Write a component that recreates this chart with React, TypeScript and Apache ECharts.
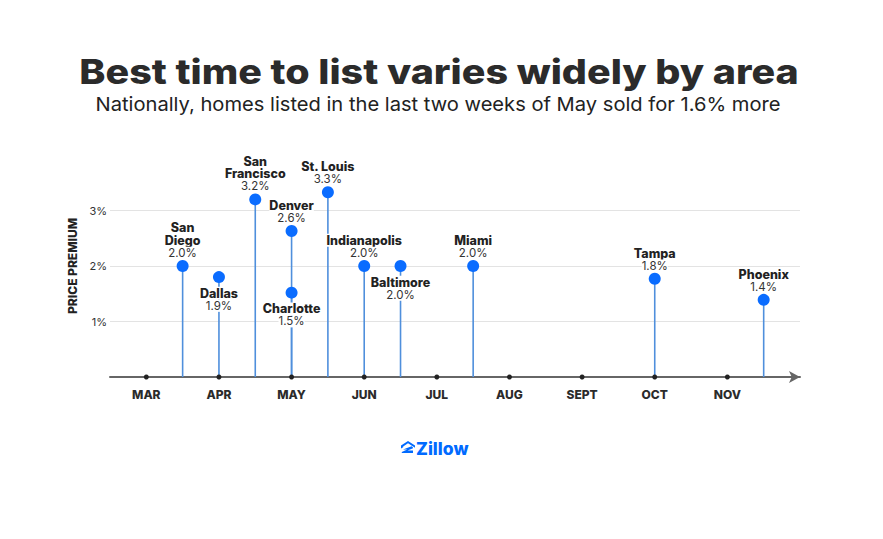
import React, { useEffect, useRef } from "react";
import * as echarts from "echarts";

const cityNames = ["San\nDiego", "Dallas", "San\nFrancisco", "Denver", "Charlotte", "St. Louis", "Indianapolis", "Baltimore", "Miami", "Tampa", "Phoenix"];
const listMonth = [3.5, 4, 4.5, 5, 5, 5.5, 6, 6.5, 7.5, 10, 11.5];
const premium = [2.0, 1.8, 3.2, 2.63, 1.52, 3.33, 2.0, 2.0, 2.0, 1.77, 1.39];
const premiumLabels = ["2.0%", "1.9%", "3.2%", "2.6%", "1.5%", "3.3%", "2.0%", "2.0%", "2.0%", "1.8%", "1.4%"];
const labelBelow = [false, true, false, false, true, false, false, true, false, false, false];
const months = ["MAR", "APR", "MAY", "JUN", "JUL", "AUG", "SEPT", "OCT", "NOV"];
const monthValues = [3, 4, 5, 6, 7, 8, 9, 10, 11];
const yTickValues = [1, 2, 3];

const FONT = "Inter, 'Noto Sans', sans-serif";
const logoPath =
  "M7 0 L14 4.6 L14 6.8 L7 2.3 L2.2 5.4 L2.2 6.2 L0 7.6 L0 4.6 Z M2 8.4 L10.6 5.2 L12 6.4 L12 7.2 L6.6 9.6 L12 9.6 L12 12 L0.8 12 L0.8 11 L6.2 8.6 L2 8.6 Z";

export default function App() {
  const ref = useRef<HTMLDivElement>(null);
  useEffect(() => {
    if (!ref.current) return;
    echarts.graphic.registerShape("zlogo", echarts.graphic.extendPath(logoPath, {}) as any);
    const chart = echarts.init(ref.current, null, { renderer: "svg" });
    const points = listMonth.map((m, i) => ({
      value: [m, premium[i]],
      label: {
        position: labelBelow[i] ? "bottom" : "top",
        distance: labelBelow[i] ? 4 : 1,
        formatter:
          cityNames[i]
            .split("\n")
            .map((s) => "{n|" + s + "}")
            .join("\n") +
          "\n{v|" +
          premiumLabels[i] +
          "}",
      },
    }));
    chart.setOption({
      animation: false,
      backgroundColor: "#ffffff",
      textStyle: { fontFamily: FONT },
      grid: { left: 110, right: 83, top: 155, bottom: 162 },
      xAxis: {
        type: "value",
        min: 2.5,
        max: 12,
        axisLine: {
          show: true,
          symbol: ["none", "arrow"],
          symbolSize: [9, 11],
          lineStyle: { color: "#666666", width: 2 },
        },
        axisTick: { show: false },
        splitLine: { show: false },
        axisLabel: {
          customValues: monthValues,
          formatter: (v: number) => months[monthValues.indexOf(v)] ?? "",
          margin: 11,
          color: "#2b2b2b",
          fontSize: 12,
          fontWeight: 800,
          fontFamily: FONT,
        },
      },
      yAxis: {
        type: "value",
        min: 0,
        max: 4,
        interval: 1,
        name: "PRICE PREMIUM",
        nameLocation: "middle",
        nameRotate: 90,
        nameGap: 27,
        nameTextStyle: { color: "#222222", fontSize: 12, fontWeight: 800, fontFamily: FONT },
        axisLine: { show: false },
        axisTick: { show: false },
        axisLabel: {
          customValues: yTickValues,
          formatter: "{value}%",
          color: "#333333",
          fontSize: 11,
          margin: 3,
          fontFamily: FONT,
        },
        splitLine: {
          show: true,
          showMinLine: false,
          showMaxLine: false,
          lineStyle: { color: "#e3e3e3", width: 1 },
        },
      },
      series: [
        {
          type: "custom",
          z: 1,
          data: listMonth.map((m, i) => [m, premium[i]]),
          renderItem: (params: any, api: any) => {
            const x = api.value(0);
            const v = api.value(1);
            const p0 = api.coord([x, 0]);
            const p1 = api.coord([x, v]);
            return {
              type: "line",
              shape: { x1: p0[0], y1: p0[1], x2: p1[0], y2: p1[1] },
              style: { stroke: "#4f8fdc", lineWidth: 1.6 },
            };
          },
        },
        {
          type: "scatter",
          z: 3,
          symbolSize: 5,
          itemStyle: { color: "#222222", opacity: 1 },
          data: monthValues.map((m) => [m, 0]),
          silent: true,
        },
        {
          type: "scatter",
          z: 4,
          symbolSize: 12,
          itemStyle: { color: "#0a6cff", opacity: 1 },
          data: points,
          label: {
            show: true,
            align: "center",
            rich: {
              n: {
                fontFamily: FONT,
                fontWeight: 800,
                fontSize: 12.5,
                color: "#222222",
                lineHeight: 12.5,
                backgroundColor: "#ffffff",
              },
              v: {
                fontFamily: FONT,
                fontSize: 11.5,
                color: "#333333",
                lineHeight: 12.5,
                backgroundColor: "#ffffff",
              },
            },
          },
        },
      ],
      graphic: [
        {
          type: "text",
          x: 439,
          y: 72,
          scaleX: 1.16,
          style: {
            text: "Best time to list varies widely by area",
            fill: "#2b2b2b",
            font: "800 34px " + FONT,
            align: "center",
            verticalAlign: "middle",
          },
        },
        {
          type: "text",
          x: 438,
          y: 104,
          scaleX: 1.06,
          style: {
            text: "Nationally, homes listed in the last two weeks of May sold for 1.6% more",
            fill: "#222222",
            font: "400 19px " + FONT,
            align: "center",
            verticalAlign: "middle",
          },
        },
        {
          type: "zlogo",
          x: 401,
          y: 441,
          scaleX: 1,
          scaleY: 1,
          style: { fill: "#006aff" },
        },
        {
          type: "text",
          x: 416,
          y: 448,
          style: {
            text: "Zillow",
            fill: "#006aff",
            font: "800 17.5px " + FONT,
            align: "left",
            verticalAlign: "middle",
          },
        },
      ],
    });
    return () => chart.dispose();
  }, []);
  return <div ref={ref} style={{ position: "fixed", left: 0, top: 0, width: 883, height: 539 }} />;
}
